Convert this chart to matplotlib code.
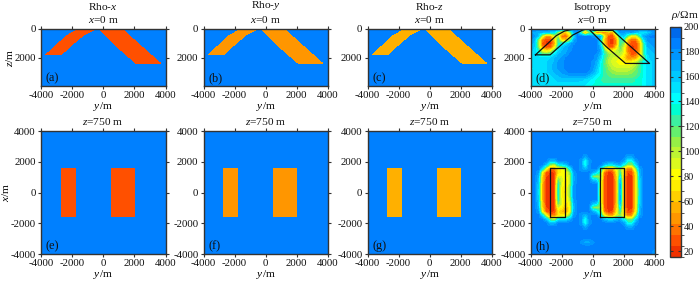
import numpy as np
import matplotlib
matplotlib.use('Agg')
import matplotlib.pyplot as plt
from matplotlib.colors import ListedColormap, BoundaryNorm

# DATA -----------------------------------------------------------------------+
bar_colors = ['#f03200', '#ff5000', '#ff7300', '#ff9600', '#ffb000', '#ffd000', '#ffee00', '#ffff00',
              '#dcfa1e', '#bef532', '#96f046', '#64f06e', '#3cf0a0', '#00ffd2', '#00ffff', '#00e1ff',
              '#00c8ff', '#00afff', '#0096ff', '#0080ff', '#0069eb']
rho_min = 15
rho_max = 200
rho_back = 185
rho_x = 28
rho_y = 47
rho_z = 56
bar_ticks = [20, 40, 60, 80, 100, 120, 140, 160, 180, 200]

pos_ticks = [-4000, -2000, 0, 2000, 4000]
pos_labels = ['-4000', '-2000', '0', '2000', '4000']
depth_ticks = [0, 2000]
depth_labels = ['0', '2000']
depth_max = 3950

# body outlines on the x=0 m section
left_y = [-3680, -2990, -2340, -1800, -1270, -520, -400, -625, -1270, -1910, -2730, -3680]
left_z = [1800, 1116, 465, 140, 20, 0, 0, 70, 420, 1000, 1800, 1800]
right_y = [-240, 100, 1310, 1955, 3680, 2130, 884, -240]
right_z = [0, 100, 100, 740, 2400, 2400, 1230, 0]
# body outlines on the z=750 m section
rect1_y = [-2740, -1750, -1750, -2740, -2740]
rect2_y = [480, 2050, 2050, 480, 480]
rect_x = [-1600, -1600, 1600, 1600, -1600]

grid_y = [-4000, -3750, -3500, -3250, -3000, -2750, -2500, -2250, -2000, -1750, -1500, -1250, -1000, -750, -500, -250, 0,
          250, 500, 750, 1000, 1250, 1500, 1750, 2000, 2250, 2500, 2750, 3000, 3250, 3500, 3750, 4000]

# inverted resistivity, x=0 m, rows z=0..4000 step 250
iso_section = [
    [185,185,185,185,185,185,185,185,185,185,185,185,185,170,120,170,185,185,185,180,180,185,185,185,185,185,185,185,185,185,185,185,185],
    [175,170,165,165,160,155,155,110,70,60,100,170,180,130,60,110,120,40,50,40,60,45,130,180,175,170,175,165,155,150,155,170,180],
    [180,175,160,90,50,50,90,100,40,30,70,150,185,185,185,185,180,175,170,80,30,25,70,150,160,120,80,80,130,170,180,185,185],
    [175,165,110,40,25,25,60,130,70,60,110,170,185,185,185,185,185,185,150,60,25,22,45,130,130,60,35,35,75,150,175,180,180],
    [170,160,100,30,22,22,50,130,140,150,170,180,185,185,185,185,185,185,150,60,25,22,45,125,110,45,25,25,55,125,170,175,180],
    [165,155,110,45,25,30,70,140,160,170,175,185,185,185,185,185,185,185,165,90,35,30,70,120,90,40,22,25,50,120,165,170,175],
    [160,150,135,85,70,85,125,155,165,170,180,185,185,185,185,185,185,185,170,120,85,80,95,110,90,40,25,28,55,120,160,165,170],
    [155,150,145,125,125,135,150,165,170,175,185,185,185,185,185,185,185,180,165,130,110,100,100,100,80,50,30,32,65,120,155,160,165],
    [155,150,150,150,150,155,165,170,175,185,185,185,185,185,185,185,185,175,155,125,105,95,90,85,70,45,45,50,80,115,150,160,165],
    [150,150,150,150,155,160,165,175,180,185,185,185,185,185,185,185,180,170,145,120,100,90,85,80,75,70,75,90,115,140,150,155,160],
    [150,150,150,150,155,160,170,175,180,185,185,185,185,185,185,185,180,165,140,120,105,95,90,85,85,85,90,100,120,140,150,155,160],
    [145,150,150,150,155,160,170,175,180,185,185,185,185,185,185,185,175,160,140,125,110,100,95,95,95,95,100,110,125,140,150,155,160],
    [150,150,150,150,155,160,165,170,175,180,185,185,185,185,185,180,170,155,140,125,115,110,105,105,105,105,110,115,125,140,150,155,160],
    [150,150,150,150,150,155,160,165,170,170,175,175,175,175,175,165,155,145,135,125,120,115,115,115,115,115,115,120,130,140,150,155,160],
    [150,150,150,150,150,150,155,160,160,160,160,160,160,160,155,150,145,135,130,125,125,125,125,125,125,125,125,130,135,140,150,155,160],
    [150,150,150,150,150,150,150,155,155,155,155,155,155,150,150,145,140,135,130,130,130,130,130,130,130,130,130,130,135,140,150,155,160],
    [150,150,150,150,150,150,150,150,150,150,150,150,150,150,145,140,135,135,130,130,130,130,130,130,130,130,130,130,135,140,150,155,160],
]

# inverted resistivity, z=750 m, rows x=4000..-4000 step 250
iso_plan = [
    [185,185,185,185,185,185,185,185,185,185,185,185,185,185,185,185,185,185,185,185,185,185,185,185,185,185,185,185,185,185,185,185,172],
    [185,185,185,185,185,185,185,185,185,185,185,185,185,185,185,185,185,185,185,185,185,185,185,185,185,185,185,185,185,185,185,185,180],
    [185,185,185,185,185,185,185,185,185,185,185,185,185,185,185,185,185,185,185,185,185,185,185,185,185,185,185,185,185,185,185,185,185],
    [185,185,185,185,185,185,185,185,185,185,185,185,185,185,185,185,185,185,185,185,185,185,185,185,185,185,185,185,185,185,185,185,185],
    [185,185,185,185,185,185,185,185,185,185,185,185,185,185,185,185,185,185,185,185,185,185,185,185,185,185,185,185,185,185,185,185,185],
    [185,185,185,185,185,185,185,185,185,185,185,185,185,185,185,185,185,185,185,185,185,185,185,185,185,185,185,185,185,185,185,185,185],
    [185,185,185,185,185,185,185,185,185,185,185,185,185,185,185,185,185,185,185,185,185,185,185,185,185,185,185,185,185,185,185,185,185],
    [185,185,185,185,185,185,185,185,185,185,185,185,185,185,170,185,185,185,185,185,185,185,185,185,185,170,170,185,185,185,185,185,185],
    [185,185,185,185,185,165,165,185,185,185,185,185,185,175,140,175,185,185,185,185,185,185,185,185,175,140,140,175,185,185,185,185,185],
    [185,185,185,185,160,110,100,140,150,160,185,185,185,175,140,180,185,185,185,165,150,150,165,170,140,110,110,150,185,185,185,185,185],
    [185,185,185,150,85,40,40,70,80,100,140,185,185,175,165,180,185,185,150,80,50,50,90,110,70,40,45,110,170,185,185,185,185],
    [185,185,175,80,30,22,24,70,80,75,110,175,185,185,185,185,170,150,120,35,22,24,70,130,60,24,28,75,165,185,185,185,185],
    [185,185,165,65,24,20,22,90,85,75,100,170,185,185,185,185,115,105,110,30,20,20,60,150,55,20,22,72,160,185,185,185,185],
    [185,185,160,60,22,20,22,120,90,70,100,170,185,185,185,185,165,155,100,28,20,20,58,170,52,20,22,70,155,185,185,185,185],
    [185,185,155,55,22,20,22,135,85,70,105,175,185,185,185,185,185,185,95,28,20,20,55,178,50,20,22,70,152,185,185,185,185],
    [185,185,155,55,22,20,22,140,75,68,110,178,185,185,185,185,185,185,90,28,20,20,55,178,50,20,22,70,150,185,185,185,185],
    [185,185,150,55,22,20,22,140,70,65,115,180,185,185,185,185,185,185,90,28,20,20,55,175,50,20,22,70,150,185,185,185,185],
    [185,185,155,55,22,20,22,140,75,68,110,178,185,185,185,185,185,185,90,28,20,20,55,178,50,20,22,70,150,185,185,185,185],
    [185,185,155,55,22,20,22,135,80,68,100,175,185,185,185,185,185,185,95,28,20,20,55,178,50,20,22,70,152,185,185,185,185],
    [185,185,160,60,22,20,22,120,85,62,90,170,185,185,185,185,165,155,100,28,20,20,58,170,52,20,22,70,155,185,185,185,185],
    [185,185,165,65,24,20,22,90,75,55,85,165,185,185,185,185,115,105,110,30,20,20,60,150,55,20,22,72,160,185,185,185,185],
    [185,185,175,80,30,22,24,70,60,45,80,170,185,185,185,185,170,150,120,35,22,24,70,130,60,24,28,75,165,185,185,185,185],
    [185,185,185,150,85,40,40,70,70,75,120,175,185,175,165,180,185,185,150,80,50,50,90,110,70,40,45,110,170,185,185,185,185],
    [185,185,185,185,160,110,100,140,150,150,165,185,185,175,140,180,185,185,185,165,150,150,165,170,140,110,110,150,185,185,185,185,185],
    [185,185,185,185,185,165,165,185,185,185,185,185,185,175,140,175,185,185,185,185,185,185,185,185,175,140,140,175,185,185,185,185,185],
    [185,185,185,185,185,185,185,185,185,185,185,185,185,185,170,185,185,185,185,185,185,185,185,185,185,170,170,185,185,185,185,185,185],
    [185,185,185,185,185,185,185,185,185,185,185,185,185,185,185,185,185,185,185,185,185,185,185,185,185,185,185,185,185,185,185,185,185],
    [185,185,185,185,185,185,185,185,185,185,185,185,185,185,185,185,185,185,185,185,185,185,185,185,185,185,185,185,185,185,185,185,185],
    [185,185,185,185,185,185,185,185,185,185,185,185,185,185,185,185,185,185,185,185,185,185,185,185,185,185,185,185,185,185,185,185,185],
    [185,185,185,185,185,185,185,185,185,185,185,185,185,180,170,170,180,185,185,185,185,185,185,185,185,185,185,185,185,185,185,185,185],
    [185,185,185,185,185,185,185,185,185,185,185,185,185,185,185,185,185,185,185,185,185,185,185,185,185,185,185,185,185,185,185,185,185],
    [185,185,185,185,185,185,185,185,185,185,185,185,185,185,185,185,185,185,185,185,185,185,185,185,185,185,185,185,185,185,185,185,180],
    [185,185,185,185,185,185,185,185,185,185,185,185,185,185,185,185,185,185,185,185,185,185,185,185,185,185,185,185,185,185,185,185,172],
]

# STYLE ----------------------------------------------------------------------+
plt.rcParams['font.family'] = ['Liberation Serif', 'DejaVu Serif']
plt.rcParams['font.size'] = 7.8
plt.rcParams['mathtext.fontset'] = 'custom'
plt.rcParams['mathtext.rm'] = 'Liberation Serif'
plt.rcParams['mathtext.it'] = 'Liberation Serif:italic'
plt.rcParams['axes.edgecolor'] = '#333333'
plt.rcParams['xtick.color'] = '#333333'
plt.rcParams['ytick.color'] = '#333333'
plt.rcParams['text.color'] = '#111111'
plt.rcParams['xtick.labelcolor'] = '#111111'
plt.rcParams['ytick.labelcolor'] = '#111111'

W, H = 700, 281
cmap = ListedColormap(bar_colors)
levels = np.linspace(rho_min, rho_max, len(bar_colors) + 1)
norm = BoundaryNorm(levels, cmap.N)


def add_axes(fig, x0, y0, x1, y1):
	return fig.add_axes([x0 / W, 1 - y1 / H, (x1 - x0) / W, (y1 - y0) / H])


def setup(ax, top_row, letter, ylabel):
	ax.set_xlim(-4000, 4000)
	ax.set_xticks(pos_ticks)
	ax.set_xticklabels(pos_labels)
	if top_row:
		ax.set_ylim(depth_max, 0)
		ax.set_yticks(depth_ticks)
		ax.set_yticklabels(depth_labels)
	else:
		ax.set_ylim(-4000, 4000)
		ax.set_yticks(pos_ticks)
		ax.set_yticklabels(pos_labels)
	ax.tick_params(top=True, right=True, length=2.2, width=0.8, pad=1.5)
	for s in ax.spines.values():
		s.set_linewidth(1.0)
	ax.set_xlabel(r'$y$/m', labelpad=0, fontsize=8.2)
	if ylabel:
		ax.set_ylabel(ylabel, labelpad=-0.5, fontsize=8.2)
	ax.text(0.04, 0.03 if top_row else 0.015, letter, transform=ax.transAxes, ha='left', va='bottom', fontsize=8.8)


# FIGURE ---------------------------------------------------------------------+
fig = plt.figure(figsize=(W / 100, H / 100), dpi=100)

columns = [(41, 165.5), (203.5, 327.5), (367.5, 491.5), (530.5, 654.5)]
top_titles = ['Rho-$x$', 'Rho-$y$', 'Rho-$z$', 'Isotropy']
rhos = [rho_x, rho_y, rho_z]
top_letters = ['(a)', '(b)', '(c)', '(d)']
low_letters = ['(e)', '(f)', '(g)', '(h)']

half = 125
extent_sec = [grid_y[0] - half, grid_y[-1] + half, 4000 + half, 0 - half]
extent_plan = [grid_y[0] - half, grid_y[-1] + half, -4000 - half, 4000 + half]

for i, (x0, x1) in enumerate(columns):
	ax = add_axes(fig, x0, 29, x1, 85.7)
	if i < 3:
		ax.set_facecolor(cmap(norm(rho_back)))
		ax.fill(left_y, left_z, color=cmap(norm(rhos[i])), lw=0, antialiased=False)
		ax.fill(right_y, right_z, color=cmap(norm(rhos[i])), lw=0, antialiased=False)
	else:
		im = ax.imshow(np.array(iso_section), cmap=cmap, norm=norm, extent=extent_sec, aspect='auto', interpolation='bilinear')
		ax.plot(left_y, left_z, color='#111111', lw=0.9)
		ax.plot(right_y, right_z, color='#111111', lw=0.9)
	setup(ax, True, top_letters[i], r'$z$/m' if i == 0 else None)
	ax.set_title(top_titles[i] + '\n$x$=0 m', pad=4.5, fontsize=8.2, linespacing=1.2)

	ax = add_axes(fig, x0, 131, x1, 254.3)
	if i < 3:
		ax.set_facecolor(cmap(norm(rho_back)))
		ax.fill(rect1_y, rect_x, color=cmap(norm(rhos[i])), lw=0)
		ax.fill(rect2_y, rect_x, color=cmap(norm(rhos[i])), lw=0)
	else:
		ax.imshow(np.array(iso_plan), cmap=cmap, norm=norm, extent=extent_plan, aspect='auto', interpolation='bilinear')
		ax.plot(rect1_y, rect_x, color='#111111', lw=0.9)
		ax.plot(rect2_y, rect_x, color='#111111', lw=0.9)
	setup(ax, False, low_letters[i], r'$x$/m' if i == 0 else None)
	ax.set_title('$z$=750 m', pad=4.5, fontsize=8.2)

# COLOURBAR ------------------------------------------------------------------+
cax = add_axes(fig, 670, 26.7, 681, 257.3)
cb = fig.colorbar(im, cax=cax, ticks=bar_ticks, spacing='proportional', drawedges=False)
cb.ax.set_yticklabels([str(t) for t in bar_ticks])
cb.ax.tick_params(direction='in', left=True, right=True, length=2, width=0.8, pad=2, labelsize=7.4)
cb.outline.set_linewidth(1.0)
cb.outline.set_edgecolor('#333333')
fig.text(685 / W, 1 - 15 / H, r'$\rho$/$\mathrm{\Omega}$m', ha='center', va='center', fontsize=8.2)

fig.savefig('out.png', dpi=100)
